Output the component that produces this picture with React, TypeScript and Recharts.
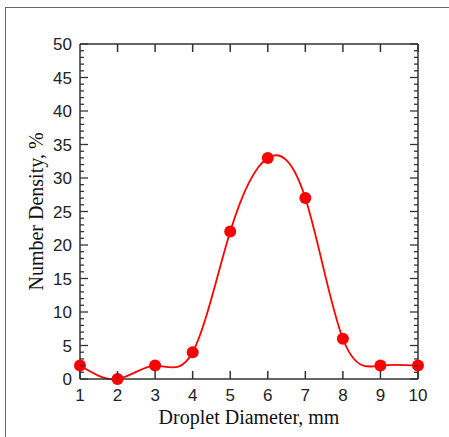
import { LineChart, Line, XAxis, YAxis } from 'recharts';

// droplet diameter (mm) vs number density (%)
const diameters = [1, 2, 3, 4, 5, 6, 7, 8, 9, 10];
const densities = [2, 0, 2, 4, 22, 33, 27, 6, 2, 2];
const yTicks = Array.from({ length: 51 }, (_, i) => i);
const xTicks = diameters;

const data = diameters.map((d, i) => ({ d, n: densities[i] }));

const AXIS = '#333';
const SANS = '"Liberation Sans", Arial, sans-serif';
const SERIF = '"Liberation Serif", "Times New Roman", serif';

const LeftTick = ({ x, y, payload }: any) => {
  const v = payload.value;
  const major = v % 5 === 0;
  return (
    <g>
      <line x1={x} x2={x + (major ? 8 : 4)} y1={y} y2={y} stroke={AXIS} strokeWidth={1.3} />
      {major && (
        <text x={x - 8} y={y} dy="0.36em" textAnchor="end" fontSize={17} fontFamily={SANS} fill="#222">
          {v}
        </text>
      )}
    </g>
  );
};

const RightTick = ({ x, y, payload }: any) => {
  const major = payload.value % 5 === 0;
  return <line x1={x} x2={x - (major ? 8 : 4)} y1={y} y2={y} stroke={AXIS} strokeWidth={1.3} />;
};

const BottomTick = ({ x, y, payload }: any) => (
  <g>
    <line x1={x} x2={x} y1={y} y2={y - 8} stroke={AXIS} strokeWidth={1.5} />
    <text x={x} y={y + 22} textAnchor="middle" fontSize={17} fontFamily={SANS} fill="#222">
      {payload.value}
    </text>
  </g>
);

const TopTick = ({ x, y }: any) => (
  <line x1={x} x2={x} y1={y} y2={y + 8} stroke={AXIS} strokeWidth={1.5} />
);

export default function App() {
  return (
    <div style={{ position: 'absolute', left: 0, top: 0, width: 449, height: 437, background: '#fff', overflow: 'hidden' }}>
      <style>{'html,body{margin:0;overflow:hidden}'}</style>
      <div
        style={{
          position: 'absolute',
          left: 5,
          top: 7,
          right: 0,
          bottom: 0,
          borderLeft: '1px solid #666',
          borderTop: '1px solid #666',
        }}
      />
      <div style={{ position: 'absolute', left: 0, top: 0 }}>
        <LineChart width={449} height={437} data={data} margin={{ top: 0, right: 0, bottom: 0, left: 0 }}>
          <XAxis
            xAxisId="b"
            dataKey="d"
            type="number"
            domain={[1, 10]}
            ticks={xTicks}
            interval={0}
            height={58}
            tickSize={0}
            tickMargin={0}
            tickLine={false}
            tick={<BottomTick />}
            axisLine={{ stroke: AXIS, strokeWidth: 1.5 }}
            label={{
              value: 'Droplet Diameter, mm',
              position: 'insideBottom',
              offset: 13,
              style: { fontFamily: SERIF, fontSize: 20, fill: '#111' },
            }}
          />
          <XAxis
            xAxisId="t"
            orientation="top"
            type="number"
            domain={[1, 10]}
            allowDataOverflow
            ticks={xTicks}
            interval={0}
            height={44}
            tickSize={0}
            tickMargin={0}
            tickLine={false}
            tick={<TopTick />}
            axisLine={{ stroke: AXIS, strokeWidth: 1.5 }}
          />
          <YAxis
            yAxisId="l"
            type="number"
            domain={[0, 50]}
            ticks={yTicks}
            interval={0}
            width={80}
            tickSize={0}
            tickMargin={0}
            tickLine={false}
            tick={<LeftTick />}
            axisLine={{ stroke: AXIS, strokeWidth: 1.5 }}
            label={({ viewBox }: any) => (
              <text
                x={43}
                y={viewBox.y + viewBox.height / 2}
                transform={`rotate(-90 43 ${viewBox.y + viewBox.height / 2})`}
                textAnchor="middle"
                fontFamily={SERIF}
                fontSize={20}
                fill="#111"
              >
                Number Density, %
              </text>
            )}
          />
          <YAxis
            yAxisId="r"
            orientation="right"
            type="number"
            domain={[0, 50]}
            allowDataOverflow
            ticks={yTicks}
            interval={0}
            width={31}
            tickSize={0}
            tickMargin={0}
            tickLine={false}
            tick={<RightTick />}
            axisLine={{ stroke: AXIS, strokeWidth: 1.5 }}
          />
          <Line
            xAxisId="b"
            yAxisId="l"
            type="natural"
            dataKey="n"
            stroke="#ff0000"
            strokeWidth={1.8}
            dot={{ r: 6, fill: '#ff0000', stroke: '#ff0000', strokeWidth: 0 }}
            isAnimationActive={false}
          />
        </LineChart>
      </div>
    </div>
  );
}
